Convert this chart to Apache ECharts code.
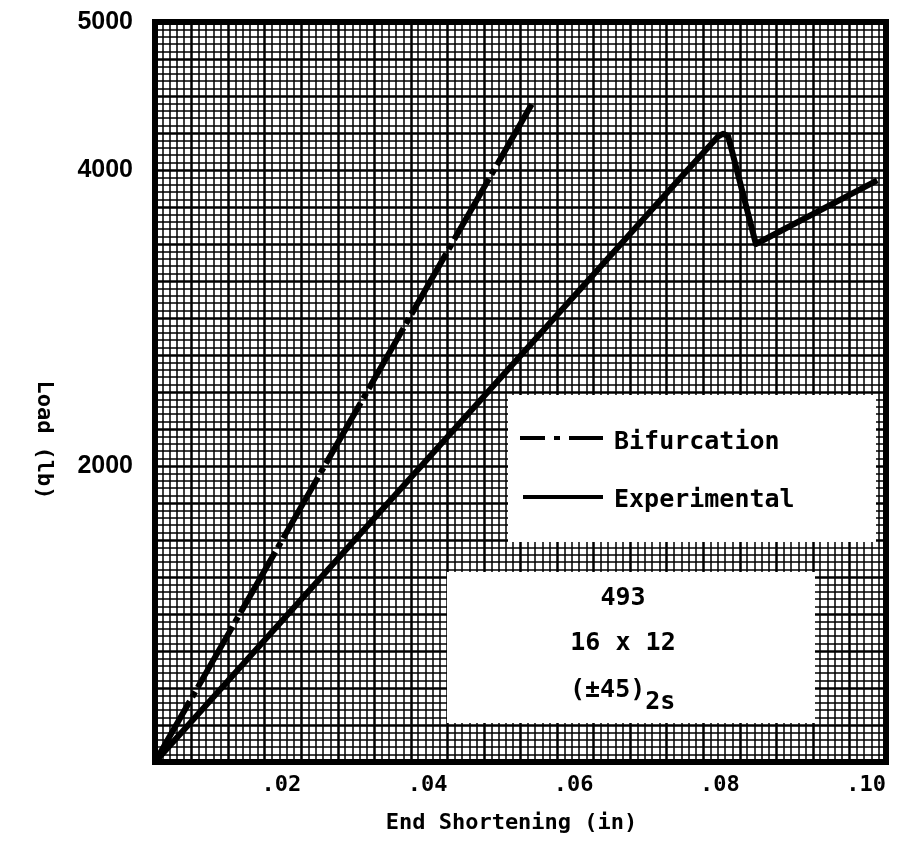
<!DOCTYPE html>
<html>
<head>
<meta charset="utf-8">
<script src="https://cdn.jsdelivr.net/npm/echarts@6/dist/echarts.min.js"></script>
<style>
  html, body { margin: 0; padding: 0; background: #fff; }
  #chart { width: 904px; height: 862px; }
</style>
</head>
<body>
<div id="chart"></div>
<script>
// values
const bifurcationX = [0, 0.0516];
const bifurcationY = [0, 4450];
const experimentalX = [0, 0.0718, 0.0770, 0.0777, 0.0784, 0.0822, 0.0988];
const experimentalY = [0, 3942, 4225, 4245, 4230, 3500, 3930];
const xTickValues = [0.02, 0.04, 0.06, 0.08, 0.10];
const yTickValues = [2000, 4000, 5000];
const specimenLines = ['493', '16 x 12'];

const mono = '"DejaVu Sans Mono", monospace';
const pair = (xs, ys) => xs.map((x, i) => [x, ys[i]]);

const chart = echarts.init(document.getElementById('chart'));

const option = {
    animation: false,
    backgroundColor: '#fff',
    grid: {
        left: 155, right: 18, top: 22, bottom: 100,
        show: true, borderColor: '#000', borderWidth: 6, backgroundColor: '#fff'
    },
    xAxis: {
        type: 'value', min: 0, max: 0.10, interval: 0.005,
        name: 'End Shortening (in)', nameLocation: 'middle', nameGap: 50,
        nameTextStyle: { fontFamily: mono, fontWeight: 'bold', fontSize: 22, color: '#000', padding: [0, 18, 0, 0] },
        axisLine: { show: false },
        axisTick: { show: false },
        minorTick: { show: false, splitNumber: 5 },
        axisLabel: {
            customValues: xTickValues,
            formatter: v => v.toFixed(2).replace(/^0/, ''),
            fontFamily: mono, fontWeight: 'bold', fontSize: 22, color: '#000',
            align: 'right', margin: 12
        },
        splitLine: { show: true, lineStyle: { color: '#000', width: 2.5 } },
        minorSplitLine: { show: true, lineStyle: { color: '#000', width: 1.5 } }
    },
    yAxis: {
        type: 'value', min: 0, max: 5000, interval: 250,
        name: 'Load (lb)', nameLocation: 'middle', nameGap: 100, nameRotate: -90,
        nameTextStyle: { fontFamily: mono, fontWeight: 'bold', fontSize: 22, color: '#000', padding: [0, 0, 0, 96] },
        axisLine: { show: false },
        axisTick: { show: false },
        minorTick: { show: false, splitNumber: 5 },
        axisLabel: {
            customValues: yTickValues,
            formatter: v => String(v),
            fontFamily: '"Liberation Sans", Arial, sans-serif', fontWeight: 'bold', fontSize: 25, color: '#000',
            margin: 22
        },
        splitLine: { show: true, lineStyle: { color: '#000', width: 2.5 } },
        minorSplitLine: { show: true, lineStyle: { color: '#000', width: 1.5 } }
    },
    legend: {
        orient: 'vertical', left: 520, top: 425, z: 20,
        itemWidth: 83, itemHeight: 14, itemGap: 33,
        icon: 'rect',
        itemStyle: { opacity: 0 },
        textStyle: { fontFamily: mono, fontWeight: 'bold', fontSize: 25, color: '#000', padding: [0, 0, 0, 1] },
        data: ['Bifurcation', 'Experimental']
    },
    graphic: [
        { type: 'rect', z: 10, shape: { x: 508, y: 395, width: 368, height: 147 }, style: { fill: '#fff' } },
        // legend line samples
        { type: 'line', z: 15, shape: { x1: 520, y1: 438, x2: 603, y2: 438 },
          style: { stroke: '#000', lineWidth: 4, lineDash: [25, 9, 6, 9, 34] } },
        { type: 'line', z: 15, shape: { x1: 523, y1: 497, x2: 603, y2: 497 },
          style: { stroke: '#000', lineWidth: 4 } },
        { type: 'rect', z: 10, shape: { x: 447, y: 572, width: 368, height: 151 }, style: { fill: '#fff' } },
        { type: 'text', z: 15, x: 623, y: 598,
          style: { text: specimenLines[0], align: 'center', verticalAlign: 'middle',
                   font: 'bold 25px ' + mono, fill: '#000' } },
        { type: 'text', z: 15, x: 623, y: 643,
          style: { text: specimenLines[1], align: 'center', verticalAlign: 'middle',
                   font: 'bold 25px ' + mono, fill: '#000' } },
        { type: 'text', z: 15, x: 570, y: 690,
          style: {
              text: '{a|(±45)}{b|2s}', align: 'left', verticalAlign: 'middle',
              rich: {
                  a: { font: 'bold 25px ' + mono, fill: '#000' },
                  b: { font: 'bold 25px ' + mono, fill: '#000', padding: [24, 0, 0, 0] }
              }
          } }
    ],
    series: [
        {
            name: 'Bifurcation', type: 'line', data: pair(bifurcationX, bifurcationY),
            symbol: 'none', z: 5,
            lineStyle: { color: '#000', width: 6, type: [70, 5, 6, 5] }
        },
        {
            name: 'Experimental', type: 'line', data: pair(experimentalX, experimentalY),
            symbol: 'none', z: 5,
            lineStyle: { color: '#000', width: 6, join: 'round' }
        }
    ]
};
chart.setOption(option);
</script>
</body>
</html>
